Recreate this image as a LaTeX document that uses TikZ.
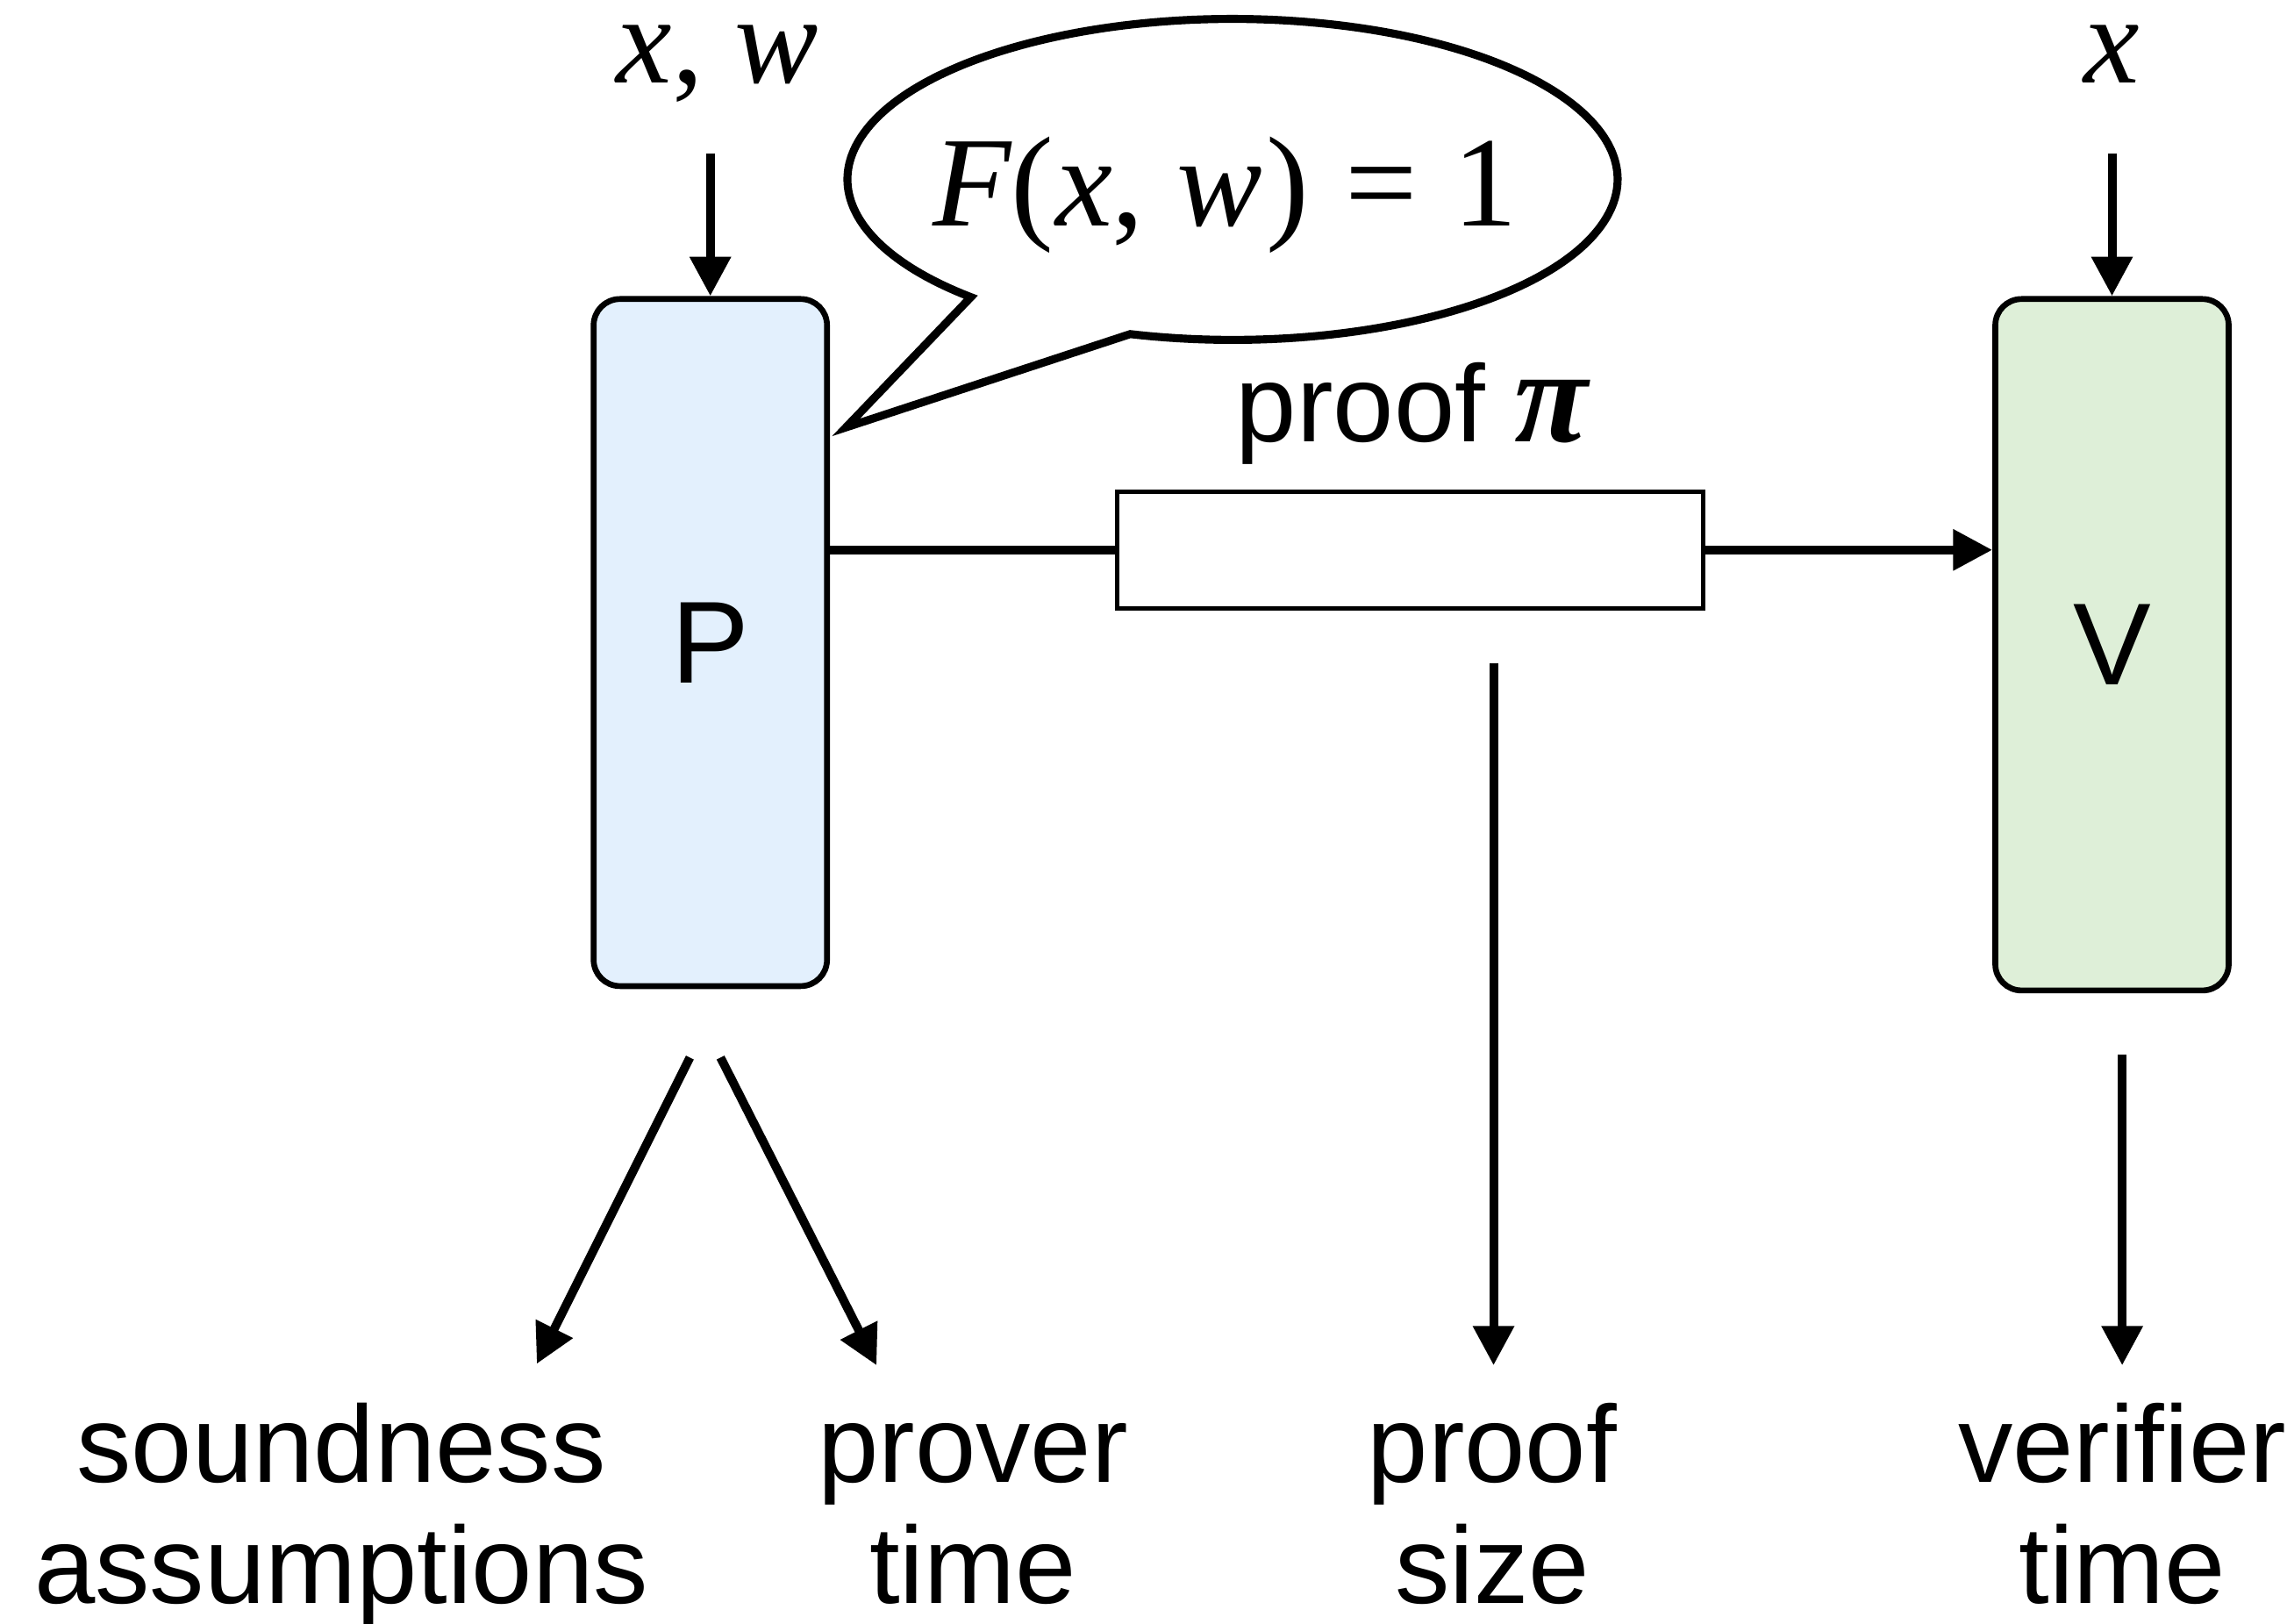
\documentclass[tikz,border=0pt]{standalone}
\usepackage{fontspec}
\setmainfont{Liberation Sans}
\newfontfamily\tms{Liberation Serif}
\usetikzlibrary{arrows.meta}
\definecolor{pfill}{HTML}{E3F0FD}
\definecolor{vfill}{HTML}{DEEFD8}
\begin{document}
\begin{tikzpicture}[x=1pt,y=1pt,
  party/.style={draw, line width=4pt, rounded corners=18pt, minimum width=160pt,
    minimum height=471pt, inner sep=0pt, font=\fontsize{80}{90}\selectfont},
  conn/.style={line width=6pt, -{Triangle[length=27pt,width=27pt]}},
  lbl/.style={inner sep=0pt, anchor=base, font=\fontsize{75}{83}\selectfont},
  mathlbl/.style={inner sep=0pt, anchor=base, font=\tms\fontsize{86}{94}\selectfont}]
\useasboundingbox (0,0) rectangle (1568,1113);

% parties
\node[party, fill=pfill] (P) at (487,672.5) {P};
\node[party, fill=vfill, minimum height=474pt] (V) at (1448,671) {V};

% inputs
\node[mathlbl] (xw) at (492,1056) {{\itshape x}, {\itshape w}};
\node[mathlbl] (xv) at (1448,1056) {{\itshape x}};
\coordinate (xwin) at (487,1008);
\coordinate (xvin) at (1448,1008);
\draw[conn] (xwin) -- (P.north);
\draw[conn] (xvin) -- (V.north);

% speech bubble
\draw[line width=5.5pt, fill=white] (845,990) ++(254.6:264pt and 110pt)
  arc[start angle=254.6, end angle=587.2, x radius=264pt, y radius=110pt]
  -- (580,820) -- cycle;
\node[mathlbl, font=\tms\fontsize{88}{96}\selectfont] (Fxw) at (840,958) {{\itshape F}(\kern1pt{\itshape x}, {\itshape w}\kern3pt)\hspace{0.28em}=\hspace{0.28em}1};

% proof
\node[draw, line width=3pt, minimum width=402pt, minimum height=80pt, inner sep=0pt] (pibox) at (967,736) {};
\node[lbl] (plabel) at (968,810) {proof\hspace{20pt}{\tms\bfseries\itshape\fontsize{92}{100}\selectfont π}};
\draw[line width=6pt] (P.east |- pibox.west) -- (pibox.west);
\draw[conn] (pibox.east) -- (pibox.east -| V.west);

% measures
\coordinate (sa0) at (473,388); \coordinate (sa1) at (368,178);
\coordinate (pt0) at (494,388); \coordinate (pt1) at (601,177);
\coordinate (ps0) at (1024,658); \coordinate (ps1) at (1024,177);
\coordinate (vt0) at (1455,390); \coordinate (vt1) at (1455,177);
\draw[conn] (sa0) -- (sa1);
\draw[conn] (pt0) -- (pt1);
\draw[conn] (ps0) -- (ps1);
\draw[conn] (vt0) -- (vt1);

\node[lbl] (sound) at (234,97) {\begin{tabular}[t]{@{}c@{}}soundness\\assumptions\end{tabular}};
\node[lbl] (ptime) at (667,97) {\begin{tabular}[t]{@{}c@{}}prover\\time\end{tabular}};
\node[lbl] (psize) at (1023,97) {\begin{tabular}[t]{@{}c@{}}proof\\size\end{tabular}};
\node[lbl] (vtime) at (1455,97) {\begin{tabular}[t]{@{}c@{}}verifier\\time\end{tabular}};
\end{tikzpicture}
\end{document}
